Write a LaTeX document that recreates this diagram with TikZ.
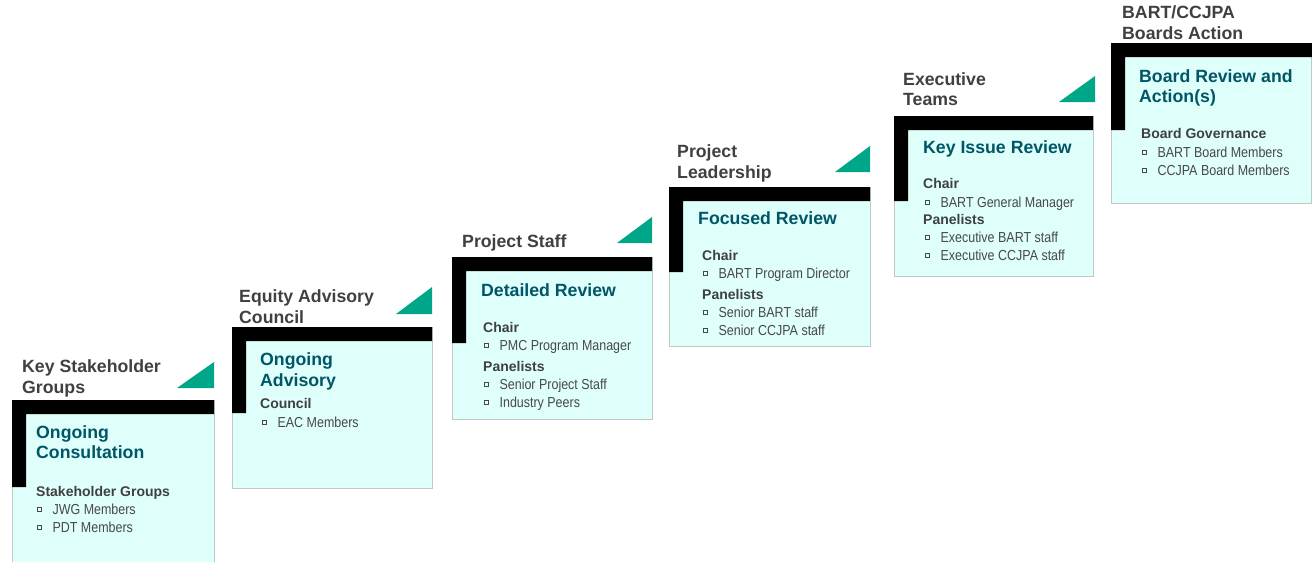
\documentclass[tikz,border=0pt]{standalone}
\usepackage{fontspec}
\setmainfont{Liberation Sans}
\newfontfamily\narrowf[FakeStretch=0.86]{Liberation Sans}
\definecolor{cardfill}{RGB}{223,255,250}
\definecolor{cardline}{RGB}{192,200,200}
\definecolor{trigreen}{RGB}{0,166,136}
\definecolor{ttlteal}{RGB}{0,85,104}
\definecolor{hdrgray}{RGB}{64,64,64}
\definecolor{itmgray}{RGB}{72,72,72}
\newcommand\sqbul{{\color{itmgray}\raisebox{2.8pt}{\fboxsep=0pt\fboxrule=0.6pt\fbox{\rule{0pt}{3.6pt}\hspace{3.6pt}}}}\hspace{10.6pt}}
\newcommand\stagecard[5]{%
  \fill[cardfill] (#1,#2) rectangle (#3,#4);
  \draw[cardline, line width=0.8pt] (#1,#2) rectangle (#3,#4);
}
\newcommand\stagebar[4]{%
  \fill[black] (#1,#2) -- (#3,#2) -- (#3,#2+14) -- (#1+14,#2+14) -- (#1+14,#4) -- (#1,#4) -- cycle;
}
\tikzset{
  hdr/.style={anchor=base west, inner sep=0pt, text=hdrgray, font=\fontsize{17.7}{21}\selectfont\bfseries},
  ttl/.style={anchor=base west, inner sep=0pt, text=ttlteal, font=\fontsize{17.7}{21}\selectfont\bfseries},
  sub/.style={anchor=base west, inner sep=0pt, text=hdrgray, font=\fontsize{14}{17}\selectfont\bfseries},
  itm/.style={anchor=base west, inner sep=0pt, text=itmgray, font=\narrowf\fontsize{14.5}{17}\selectfont},
  tri/.style={fill=trigreen}
}
\begin{document}
\begin{tikzpicture}[x=1pt,y=-1pt]
\useasboundingbox (0,0) rectangle (1312,562);
\fill[white] (0,0) rectangle (1312,562);

% ---------- card 1
\stagecard{12}{400}{214}{564}{487}
\stagebar{12}{400}{214}{487}
\fill[tri] (177,388) -- (214,388) -- (214,362) -- cycle;
\node[hdr] (h1a) at (22,372) {Key Stakeholder};
\node[hdr] (h1b) at (22,393) {Groups};
\node[ttl] (t1a) at (36,438) {Ongoing};
\node[ttl] (t1b) at (36,458) {Consultation};
\node[sub] (s1) at (36,496) {Stakeholder Groups};
\node[itm] (i1a) at (37,514) {\sqbul JWG Members};
\node[itm] (i1b) at (37,532) {\sqbul PDT Members};

% ---------- card 2
\stagecard{232}{327}{432}{488}{413}
\stagebar{232}{327}{432}{413}
\fill[tri] (396,314) -- (432,314) -- (432,287) -- cycle;
\node[hdr] (h2a) at (239,302) {Equity Advisory};
\node[hdr] (h2b) at (239,323) {Council};
\node[ttl] (t2a) at (260,365) {Ongoing};
\node[ttl] (t2b) at (260,386) {Advisory};
\node[sub] (s2) at (260,408) {Council};
\node[itm] (i2a) at (262,427) {\sqbul EAC Members};

% ---------- card 3
\stagecard{452}{257}{652}{419}{343}
\stagebar{452}{257}{652}{343}
\fill[tri] (617,243) -- (652,243) -- (652,217) -- cycle;
\node[hdr] (h3a) at (462,247) {Project Staff};
\node[ttl] (t3a) at (481,296) {Detailed Review};
\node[sub] (s3a) at (483,332) {Chair};
\node[itm] (i3a) at (484,350) {\sqbul PMC Program Manager};
\node[sub] (s3b) at (483,371) {Panelists};
\node[itm] (i3b) at (484,389) {\sqbul Senior Project Staff};
\node[itm] (i3c) at (484,407) {\sqbul Industry Peers};

% ---------- card 4
\stagecard{669}{187}{870}{346}{272}
\stagebar{669}{187}{870}{272}
\fill[tri] (835,172) -- (870,172) -- (870,146) -- cycle;
\node[hdr] (h4a) at (677,157) {Project};
\node[hdr] (h4b) at (677,178) {Leadership};
\node[ttl] (t4a) at (698,224) {Focused Review};
\node[sub] (s4a) at (702,260) {Chair};
\node[itm] (i4a) at (703,278) {\sqbul BART Program Director};
\node[sub] (s4b) at (702,299) {Panelists};
\node[itm] (i4b) at (703,317) {\sqbul Senior BART staff};
\node[itm] (i4c) at (703,335) {\sqbul Senior CCJPA staff};

% ---------- card 5
\stagecard{894}{116}{1093}{276}{201}
\stagebar{894}{116}{1093}{201}
\fill[tri] (1059,102) -- (1095,102) -- (1095,76) -- cycle;
\node[hdr] (h5a) at (903,85) {Executive};
\node[hdr] (h5b) at (903,105) {Teams};
\node[ttl] (t5a) at (923,153) {Key Issue Review};
\node[sub] (s5a) at (923,188) {Chair};
\node[itm] (i5a) at (925,207) {\sqbul BART General Manager};
\node[sub] (s5b) at (923,224) {Panelists};
\node[itm] (i5b) at (925,242) {\sqbul Executive BART staff};
\node[itm] (i5c) at (925,260) {\sqbul Executive CCJPA staff};

% ---------- card 6
\stagecard{1111}{43}{1311}{203}{130}
\stagebar{1111}{43}{1312}{130}
\node[hdr] (h6a) at (1122,18) {BART/CCJPA};
\node[hdr] (h6b) at (1122,39) {Boards Action};
\node[ttl] (t6a) at (1139,82) {Board Review and};
\node[ttl] (t6b) at (1139,102) {Action(s)};
\node[sub] (s6a) at (1141,138) {Board Governance};
\node[itm] (i6a) at (1142,157) {\sqbul BART Board Members};
\node[itm] (i6b) at (1142,175) {\sqbul CCJPA Board Members};
\end{tikzpicture}
\end{document}
